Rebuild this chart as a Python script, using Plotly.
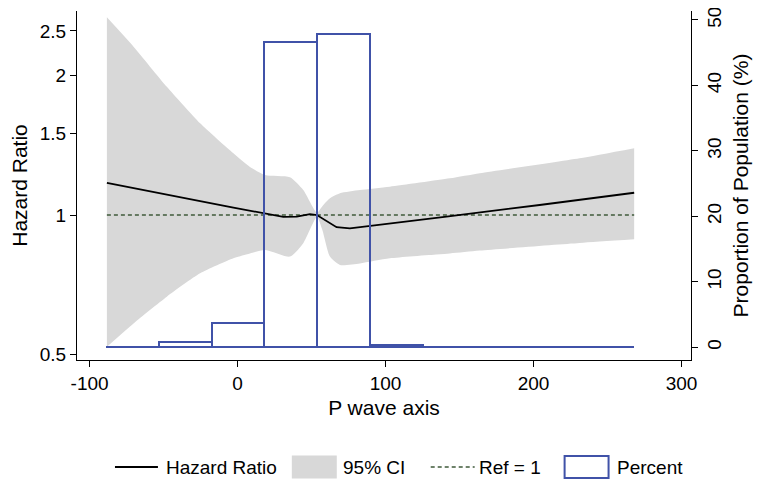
import plotly.graph_objects as go

# ---- data ----
p_axis = [-88.3, -70.3, -47.8, -25.3, -2.8, 8.4, 18.6, 30.9, 40.0, 48.9, 53.6,
          66.9, 75.9, 102.9, 141.2, 204.1, 268.0]
hazard_ratio = [1.174, 1.145, 1.107, 1.072, 1.037, 1.021, 1.006, 0.991, 0.992, 1.004, 1.0,
                0.941, 0.936, 0.960, 0.992, 1.051, 1.117]

ci_x = [-88.3, -70.3, -47.8, -25.3, -2.8, 8.4, 18.6, 35.4, 44.4, 53.6, 57.3,
        62.4, 69.2, 82.7, 102.9, 143.4, 163.7, 231.1, 268.0]
ci_upper = [2.674, 2.311, 1.893, 1.578, 1.359, 1.27, 1.22, 1.206, 1.132, 1.012, 1.045,
            1.087, 1.114, 1.132, 1.151, 1.20, 1.231, 1.326, 1.394]
ci_lower = [0.519, 0.583, 0.666, 0.748, 0.806, 0.826, 0.840, 0.813, 0.869, 0.990, 0.928,
            0.813, 0.780, 0.786, 0.806, 0.826, 0.838, 0.870, 0.886]

ref_x = [-88.3, 268.0]
ref_y = [1, 1]

bin_edges = [-89, -53.3, -17.6, 18.1, 53.8, 89.5, 125.2, 160.9, 196.6, 232.3, 268]
percent = [0.05, 0.75, 3.65, 46.6, 47.9, 0.3, 0.05, 0.05, 0.05, 0.05]

hr_ticks = [0.5, 1, 1.5, 2, 2.5]
hr_ticktext = ["0.5", "1", "1.5", "2", "2.5"]
x_ticks = [-100, 0, 100, 200, 300]
x_ticktext = ["-100", "0", "100", "200", "300"]
pct_ticks = [0, 10, 20, 30, 40, 50]

legend_labels = ["Hazard Ratio", "95% CI", "Ref = 1", "Percent"]

# ---- styles / layout geometry ----
FONT = "Liberation Sans, Arial, sans-serif"
BLUE = "#4052a8"
GRAY = "#d8d8d8"
GREEN = "#3f5a3a"
OFF = 8                     # default page body margin
W, H = 762 - OFF, 486 - OFF
ML, MT = 77 - OFF, 11 - OFF
PLOT_R, PLOT_B = 691.5 - OFF, 360 - OFF
MR, MB = W - PLOT_R, H - PLOT_B
PW, PH = W - ML - MR, H - MT - MB


def px(xs):   # screen pixel -> paper x
    return (xs - OFF - ML) / PW


def py(ys):   # screen pixel -> paper y
    return (H - MB - (ys - OFF)) / PH


bin_centers = [(a + b) / 2 for a, b in zip(bin_edges[:-1], bin_edges[1:])]
bin_widths = [b - a for a, b in zip(bin_edges[:-1], bin_edges[1:])]

fig = go.Figure()

fig.add_trace(go.Scatter(x=ci_x, y=ci_lower, mode="lines",
                         line=dict(width=0, color=GRAY, shape="spline", smoothing=0.6),
                         showlegend=False, hoverinfo="skip"))
fig.add_trace(go.Scatter(x=ci_x, y=ci_upper, mode="lines",
                         line=dict(width=0, color=GRAY, shape="spline", smoothing=0.6),
                         fill="tonexty", fillcolor=GRAY, name=legend_labels[1]))
fig.add_trace(go.Scatter(x=ref_x, y=ref_y, mode="lines",
                         line=dict(color=GREEN, width=1.5, dash="4px,3px"),
                         name=legend_labels[2]))
fig.add_trace(go.Scatter(x=p_axis, y=hazard_ratio, mode="lines",
                         line=dict(color="black", width=1.8),
                         name=legend_labels[0]))
fig.add_trace(go.Bar(x=bin_centers, y=percent, width=bin_widths, yaxis="y2",
                     marker=dict(color="rgba(0,0,0,0)", line=dict(color=BLUE, width=2)),
                     name=legend_labels[3]))

axis_common = dict(showgrid=False, zeroline=False, showline=True, linecolor="black",
                   linewidth=1, ticks="outside", ticklen=6, tickcolor="black",
                   automargin=False, ticklabeloverflow="allow",
                   tickfont=dict(size=19, color="black", family=FONT))

# ---- manual legend (symbols + text) ----
ly = 467
shapes = [
    dict(type="line", xref="paper", yref="paper", x0=px(115), x1=px(158), y0=py(ly), y1=py(ly),
         line=dict(color="black", width=1.8)),
    dict(type="rect", xref="paper", yref="paper", x0=px(292), x1=px(337), y0=py(ly - 11.5),
         y1=py(ly + 11.5), fillcolor=GRAY, line=dict(width=0)),
    dict(type="line", xref="paper", yref="paper", x0=px(431), x1=px(475), y0=py(ly), y1=py(ly),
         line=dict(color=GREEN, width=1.5, dash="4px,3px")),
    dict(type="rect", xref="paper", yref="paper", x0=px(565), x1=px(609), y0=py(ly - 11),
         y1=py(ly + 11), fillcolor="rgba(0,0,0,0)", line=dict(color=BLUE, width=2)),
]
text_x = [164, 341, 477, 615]
annotations = [dict(text=t, x=px(xx), y=py(ly), xref="paper", yref="paper", xanchor="left",
                    yanchor="middle", showarrow=False,
                    font=dict(size=19, color="black", family=FONT))
               for t, xx in zip(legend_labels, text_x)]

fig.update_layout(
    width=W, height=H,
    margin=dict(l=ML, r=MR, t=MT, b=MB),
    paper_bgcolor="white", plot_bgcolor="white",
    font=dict(family=FONT, color="black"),
    bargap=0,
    showlegend=False,
    shapes=shapes,
    annotations=annotations,
    xaxis=dict(range=[-108.5, 306.4], tickvals=x_ticks, ticktext=x_ticktext,
               title=dict(text="P wave axis", font=dict(size=21), standoff=7),
               **axis_common),
    yaxis=dict(type="log", range=[-0.3134, 0.4409], tickvals=hr_ticks, ticktext=hr_ticktext,
               title=dict(text="Hazard Ratio", font=dict(size=21), standoff=10),
               **axis_common),
    yaxis2=dict(overlaying="y", side="right", range=[-1.94, 51.37], tickvals=pct_ticks,
                tickangle=-90,
                title=dict(text="Proportion of Population (%)", font=dict(size=21), standoff=9),
                **axis_common),
)

fig.write_html("out.html")
